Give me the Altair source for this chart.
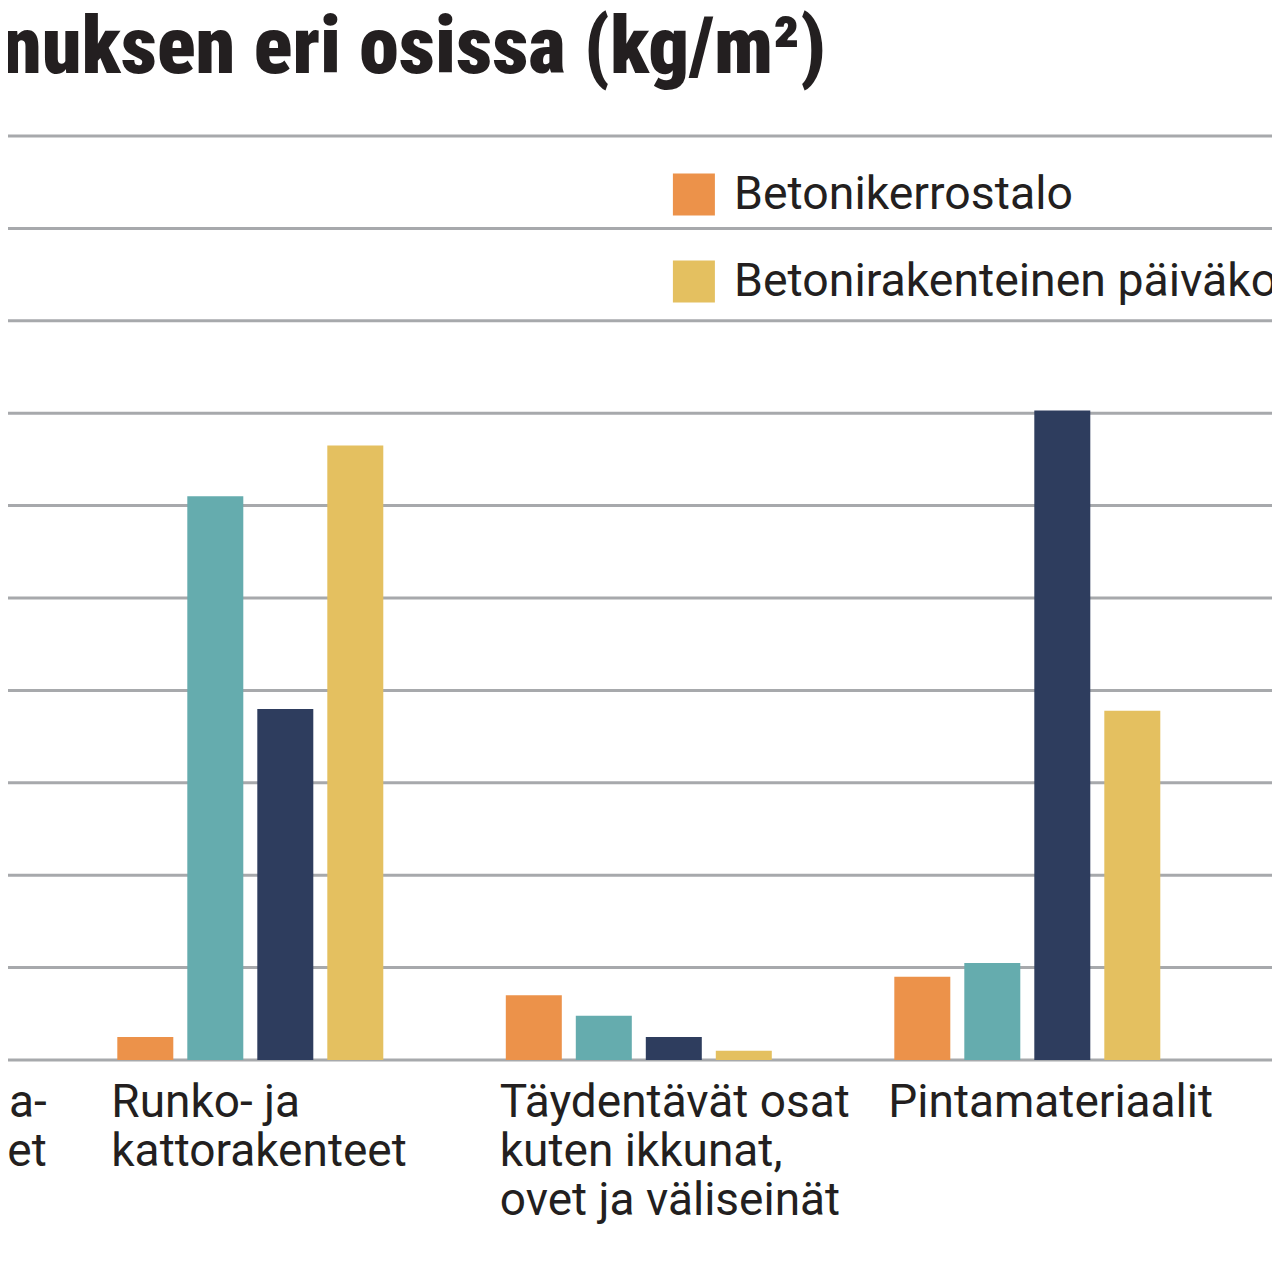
import altair as alt
import pandas as pd

# ---- data ----
title_text = "nuksen eri osissa (kg/m²)"
categories = [
    "Alapohja-\nrakenteet",
    "Runko- ja\nkattorakenteet",
    "Täydentävät osat\nkuten ikkunat,\novet ja väliseinät",
    "Pintamateriaalit",
]
visible_categories = categories[1:]
series = ["Betonikerrostalo", "Puukerrostalo", "Puurakenteinen päiväkoti", "Betonirakenteinen päiväkoti"]
colors = ["#EC924A", "#65ACAE", "#2E3D5E", "#E4C060"]
legend_shown = ["Betonikerrostalo", "Betonirakenteinen päiväkoti"]

betonikerrostalo = [2.5, 7.0, 9.0]
puukerrostalo = [61.0, 4.8, 10.5]
puu_paivakoti = [38.0, 2.5, 70.3]
betoni_paivakoti = [66.5, 1.0, 37.8]
grid_ticks = [0, 10, 20, 30, 40, 50, 60, 70, 80, 90, 100]

rows = []
for s, vals in zip(series, [betonikerrostalo, puukerrostalo, puu_paivakoti, betoni_paivakoti]):
    for c, v in zip(visible_categories, vals):
        rows.append({"cat": c, "series": s, "value": v})
df = pd.DataFrame(rows)
labels_df = pd.DataFrame({"cat": categories})
title_df = pd.DataFrame({"t": [title_text]})
grid_df = pd.DataFrame({"value": grid_ticks})

W, H = 1264, 1264
TEXT = "#231f20"

xscale = alt.Scale(domain=categories, range=[-286.2, 1159.3], paddingInner=0.2793, paddingOuter=0)
yscale = alt.Scale(domain=[0, 100], range=[1052, 128])

grid = alt.Chart(grid_df).mark_rule(color="#a7a9ac", strokeWidth=3).encode(
    y=alt.Y("value:Q", scale=yscale, axis=None),
    x=alt.value(0),
    x2=alt.value(W),
)

bars = alt.Chart(df).mark_bar().encode(
    x=alt.X("cat:N", scale=xscale, axis=None, sort=categories),
    xOffset=alt.XOffset("series:N", scale=alt.Scale(domain=series, paddingInner=0.2, paddingOuter=0.1), sort=series),
    y=alt.Y("value:Q", scale=yscale, axis=None),
    color=alt.Color("series:N", scale=alt.Scale(domain=series, range=colors),
                    legend=alt.Legend(values=legend_shown, orient="none", legendX=662.7, legendY=163.4,
                                      title=None, symbolType="square", symbolSize=1764,
                                      symbolStrokeWidth=0, symbolOpacity=1,
                                      labelFontSize=46.4, labelFont="Roboto", labelColor=TEXT,
                                      labelLimit=2000, labelOffset=17, rowPadding=40, padding=0)),
)

labels = alt.Chart(labels_df).transform_filter(
    alt.FieldOneOfPredicate(field="cat", oneOf=visible_categories)
).mark_text(
    align="left", baseline="alphabetic", fontSize=46, font="Roboto", color=TEXT,
    lineBreak="\n", lineHeight=49, dx=1
).encode(
    x=alt.X("cat:N", scale=xscale, axis=None, sort=categories, bandPosition=0),
    y=alt.value(1109),
    text="cat:N",
)

left_label = alt.Chart(labels_df).transform_filter(
    alt.FieldEqualPredicate(field="cat", equal=categories[0])
).mark_text(
    align="right", baseline="alphabetic", fontSize=46, font="Roboto", color=TEXT,
    lineBreak="\n", lineHeight=49, dx=45
).encode(
    x=alt.X("cat:N", scale=xscale, axis=None, sort=categories, bandPosition=1),
    y=alt.value(1109),
    text="cat:N",
)

title = alt.Chart(title_df).mark_text(
    align="left", baseline="alphabetic", fontSize=80, fontWeight=900,
    font="Roboto Condensed, Liberation Sans Narrow, Arial Narrow, Roboto, sans-serif", color=TEXT
).encode(
    x=alt.value(-6),
    y=alt.value(65),
    text="t:N",
)

chart = alt.layer(grid, bars, labels, left_label, title).properties(
    width=W, height=H,
    autosize=alt.AutoSizeParams(type="none"),
    padding=0,
    background="white",
).configure_view(stroke=None)

chart.save("out.html", embed_options={"renderer": "svg", "actions": False})
